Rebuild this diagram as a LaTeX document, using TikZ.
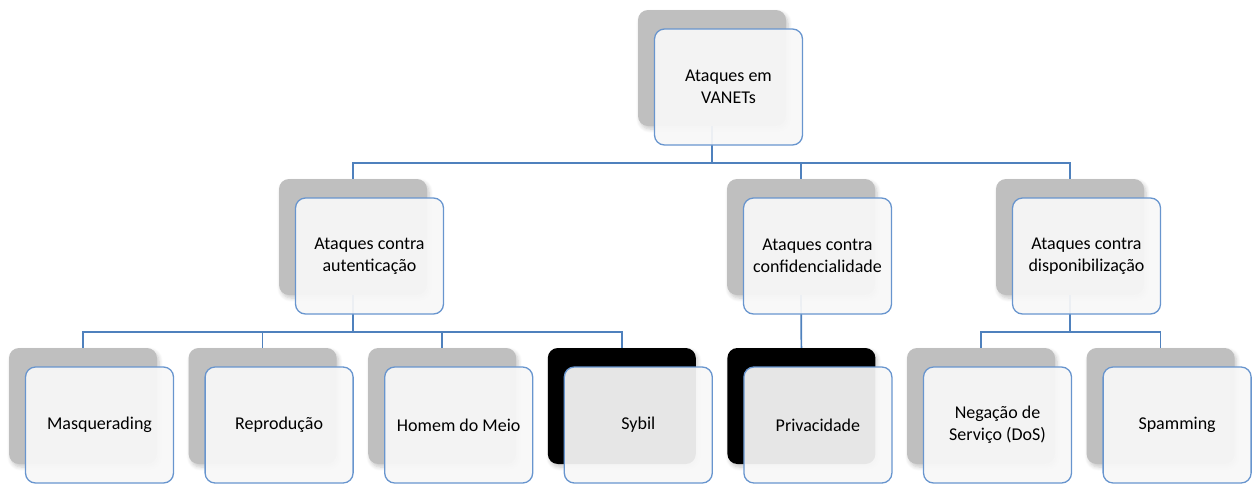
\documentclass[tikz,border=0pt]{standalone}
\usepackage{fontspec}
\setmainfont{Carlito}
\usetikzlibrary{shadows.blur}

\definecolor{linkblue}{RGB}{79,129,189}
\definecolor{edgeblue}{RGB}{104,149,206}
\definecolor{backgray}{RGB}{191,191,191}
\definecolor{paper}{RGB}{248,248,248}

\tikzset{
  card/.style={rectangle, rounded corners=10pt, minimum width=148pt,
    minimum height=116pt, inner sep=0pt},
  backcard/.style={card, fill=backgray,
    blur shadow={shadow xshift=2pt, shadow yshift=-3pt,
      shadow blur steps=6, shadow blur radius=4pt, shadow opacity=22}},
  darkcard/.style={backcard, fill=black},
  frontcard/.style={card, draw=edgeblue, line width=1.3pt, fill=paper,
    fill opacity=0.93, text opacity=1, align=center,
    font=\fontsize{18pt}{22pt}\selectfont},
  link/.style={draw=linkblue, line width=1.7pt}
}

\begin{document}
\begin{tikzpicture}[x=1pt, y=-1pt]
\useasboundingbox (0,0) rectangle (1257,483);

% back cards
\node[backcard] (gtop)  at (712,68) {};
\node[backcard] (gauth) at (353,237) {};
\node[backcard] (gconf) at (801,237) {};
\node[backcard] (gdisp) at (1070,237) {};
\node[backcard] (gmasq) at (83,406) {};
\node[backcard] (grep)  at (262.6,406) {};
\node[backcard] (ghom)  at (442.2,406) {};
\node[darkcard] (gsyb)  at (621.8,406) {};
\node[darkcard] (gpriv) at (801.4,406) {};
\node[backcard] (gneg)  at (981,406) {};
\node[backcard] (gspam) at (1160.6,406) {};

% bus junctions
\coordinate (b1) at (gtop.south |- 0,163);
\coordinate (b2) at (gauth.south |- 0,332);
\coordinate (b3) at (gdisp.south |- 0,332);

% connectors
\draw[link] (gtop.south) -- (b1);
\draw[link] (gauth.north) |- (b1);
\draw[link] (gconf.north) |- (b1);
\draw[link] (gdisp.north) |- (b1);
\draw[link] (gauth.south) -- (b2);
\draw[link] (gmasq.north) |- (b2);
\draw[link] (grep.north) |- (b2);
\draw[link] (ghom.north) |- (b2);
\draw[link] (gsyb.north) |- (b2);
\draw[link] (gconf.south) -- (gpriv.north);
\draw[link] (gdisp.south) -- (b3);
\draw[link] (gneg.north) |- (b3);
\draw[link] (gspam.north) |- (b3);

% front cards
\node[frontcard] (ftop)  at (728.5,87) {Ataques em\\VANETs};
\node[frontcard] (fauth) at (369.5,256) {Ataques contra\\autenticação};
\node[frontcard] (fconf) at (817.5,256) {Ataques contra\\confidencialidade};
\node[frontcard] (fdisp) at (1086.5,256) {Ataques contra\\disponibilização};
\node[frontcard] (fmasq) at (99.5,425) {Masquerading};
\node[frontcard] (frep)  at (279.1,425) {Reprodução};
\node[frontcard] (fhom)  at (458.7,425) {Homem do Meio};
\node[frontcard] (fsyb)  at (638.3,425) {Sybil};
\node[frontcard] (fpriv) at (817.9,425) {Privacidade};
\node[frontcard] (fneg)  at (997.5,425) {Negação de\\Serviço (DoS)};
\node[frontcard] (fspam) at (1177.1,425) {Spamming};
\end{tikzpicture}
\end{document}
